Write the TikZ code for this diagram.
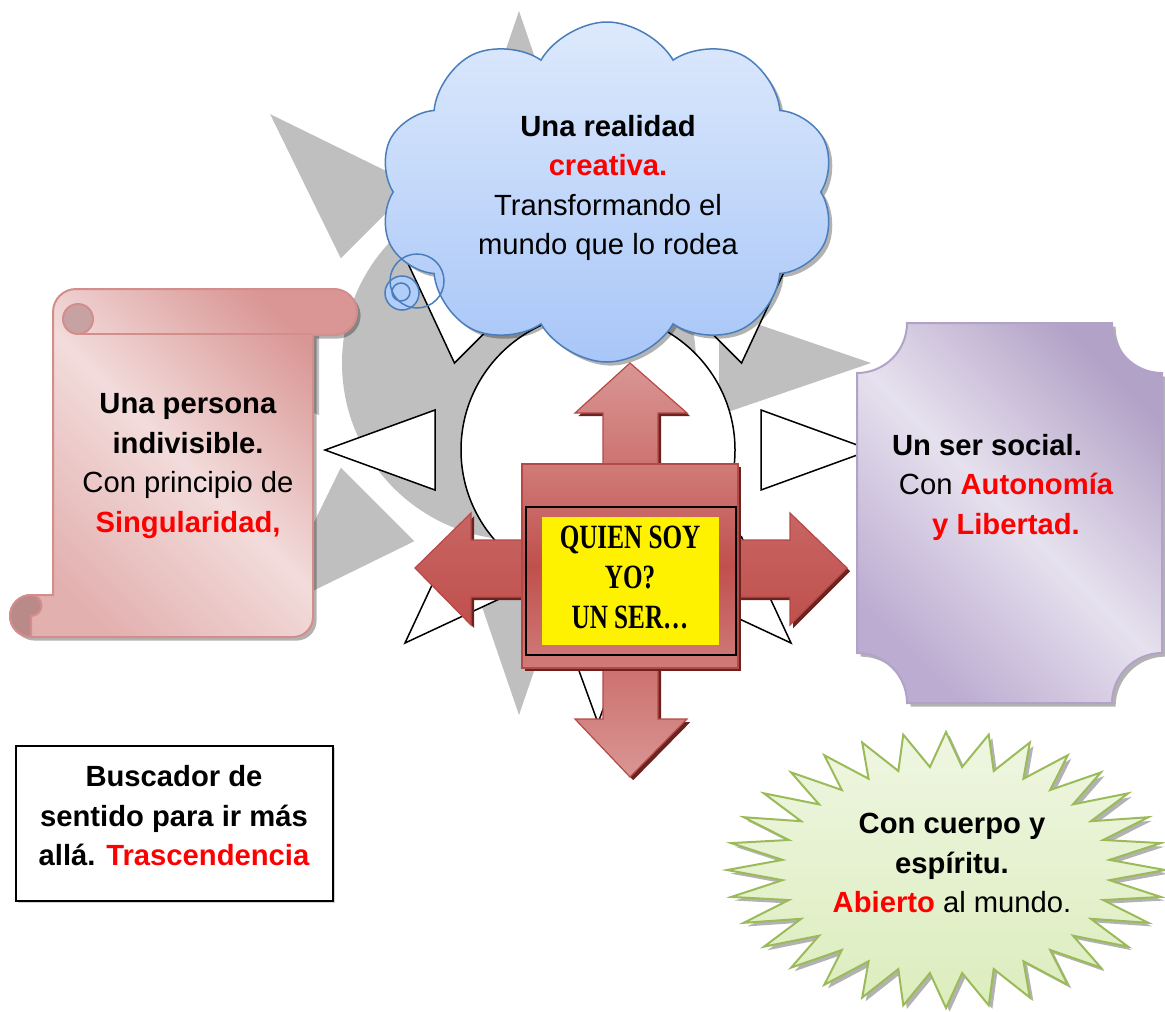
\documentclass[tikz,border=0pt]{standalone}
\usepackage{fontspec}
\usepackage{graphicx}
\setmainfont{Liberation Sans}
\newfontfamily\quienfont{Liberation Serif}
\usetikzlibrary{shapes.symbols,shadows}
\definecolor{sungrey}{HTML}{BFBFBF}
\definecolor{txtred}{HTML}{FF0000}
\definecolor{scrollA}{HTML}{E2B0AF}
\definecolor{scrollB}{HTML}{F2DCDB}
\definecolor{scrollC}{HTML}{D99694}
\definecolor{scrollEdge}{HTML}{D38D8B}
\definecolor{curlA}{HTML}{C6A2A2}
\definecolor{curlB}{HTML}{B98A89}
\definecolor{plaqA}{HTML}{BCACD1}
\definecolor{plaqB}{HTML}{E6E1EE}
\definecolor{plaqC}{HTML}{B3A2C7}
\definecolor{plaqEdge}{HTML}{B3A2C7}
\definecolor{cloudTop}{HTML}{DDE9FC}
\definecolor{cloudBot}{HTML}{A8C6F8}
\definecolor{cloudEdge}{HTML}{4A7EBB}
\definecolor{arrLight}{HTML}{D99694}
\definecolor{arrMain}{HTML}{C0504D}
\definecolor{arrEdge}{HTML}{B54946}
\definecolor{arrShadow}{HTML}{6B2321}
\definecolor{starTop}{HTML}{EFF6E2}
\definecolor{starBot}{HTML}{DCEDBD}
\definecolor{starEdge}{HTML}{9BBB59}
\newcommand\redbf[1]{\textbf{\textcolor{txtred}{#1}}}
\begin{document}
\begin{tikzpicture}[x=0.5pt,y=-0.5pt,
  greyray/.style={fill=sungrey},
  whiteray/.style={fill=white,draw=black,line width=0.75pt},
  txt/.style={font=\fontsize{14.6pt}{19.75pt}\selectfont,align=center,inner sep=0pt},
  softshadow/.style={drop shadow={shadow xshift=1.8pt,shadow yshift=-1.8pt,opacity=0.3,fill=black}},
  arrowshape/.style={draw=arrEdge,line width=0.6pt,drop shadow={shadow xshift=1.6pt,shadow yshift=-1.6pt,opacity=1,fill=arrShadow}}
]
\useasboundingbox (0,0) rectangle (1165,1011);

% grey shadow sun
\fill[greyray] (519,363) circle[radius=177];
\foreach \a in {0,45,...,315}{
  \fill[greyray] ({519+200*cos(\a)-52*sin(\a)},{363+200*sin(\a)+52*cos(\a)})
    -- ({519+352*cos(\a)},{363+352*sin(\a)})
    -- ({519+200*cos(\a)+52*sin(\a)},{363+200*sin(\a)-52*cos(\a)}) -- cycle;
}
% white sun
\filldraw[whiteray] (598,450) circle[radius=137];
\foreach \a in {0,45,...,315}{
  \filldraw[whiteray] ({598+163*cos(\a)-40*sin(\a)},{450+163*sin(\a)+40*cos(\a)})
    -- ({598+273*cos(\a)},{450+273*sin(\a)})
    -- ({598+163*cos(\a)+40*sin(\a)},{450+163*sin(\a)-40*cos(\a)}) -- cycle;
}

% scroll
\path[left color=scrollA,right color=scrollC,middle color=scrollB,shading angle=135,
      draw=scrollEdge,line width=1pt,softshadow]
  (76,289) -- (334,289) arc[start angle=270,end angle=450,radius=23]
  -- (313,335) -- (313,617) arc[start angle=0,end angle=90,radius=20]
  -- (31,637) arc[start angle=90,end angle=270,radius=21]
  -- (53,595) -- (53,312) arc[start angle=180,end angle=270,radius=23] -- cycle;
\draw[scrollEdge,line width=1pt] (78,334) -- (313,334);
\filldraw[fill=curlA,draw=scrollEdge,line width=1pt] (78,319) circle[radius=15];
\filldraw[fill=curlB,draw=scrollEdge,line width=1pt]
  (31,637) arc[start angle=90,end angle=270,radius=21]
  arc[start angle=270,end angle=450,radius=10.5] -- cycle;

% purple plaque
\path[left color=plaqA,right color=plaqC,middle color=plaqB,shading angle=135,
      draw=plaqEdge,line width=1pt,softshadow]
  (907,323) -- (1112,323) arc[start angle=180,end angle=90,radius=50]
  -- (1162,653) arc[start angle=270,end angle=180,radius=50]
  -- (907,703) arc[start angle=0,end angle=-90,radius=50]
  -- (857,373) arc[start angle=90,end angle=0,radius=50] -- cycle;

% cloud
\node[cloud,cloud puffs=10,cloud puff arc=120,cloud ignores aspect,
      minimum width=228pt,minimum height=170pt,
      top color=cloudTop,bottom color=cloudBot,draw=cloudEdge,line width=0.75pt,softshadow]
  (cloud) at (607,192) {};
\filldraw[fill=cloudBot!80!cloudTop,draw=cloudEdge,line width=0.75pt] (402,293) circle[radius=17];
\draw[cloudEdge,line width=0.75pt] (417,281) circle[radius=27];
\draw[cloudEdge,line width=0.75pt] (401,292) circle[radius=9];

% central arrows
\path[arrowshape,top color=arrLight,bottom color=arrLight,middle color=arrMain]
  (630,363) -- (687,413) -- (658,413) -- (658,719) -- (687,719) -- (630,777)
  -- (575,719) -- (603,719) -- (603,413) -- (575,413) -- cycle;
\path[arrowshape,top color=arrMain!88!white,bottom color=arrMain]
  (415,568) -- (471,513) -- (471,540) -- (790,540) -- (790,513) -- (847,568)
  -- (790,625) -- (790,597) -- (471,597) -- (471,625) -- cycle;
\path[arrowshape,top color=arrMain!75!white,bottom color=arrMain!75!white,middle color=arrMain]
  (522,464) rectangle (738,668);
\draw[black,line width=1pt] (526,507) rectangle (736,655);
\fill[yellow] (542,517) rectangle (719,645);

% starburst
\path[top color=starTop,bottom color=starBot,draw=starEdge,line width=1pt,softshadow]
  (946,732) \foreach \k in {0,...,31}{
    -- ({946+164.25*cos(\k*11.25-84.375)},{870+103.5*sin(\k*11.25-84.375)})
    -- ({946+219*cos((\k+1)*11.25-90)},{870+138*sin((\k+1)*11.25-90)})
  } -- cycle;

% text box
\draw[black,line width=1pt,fill=white,drop shadow={shadow xshift=1pt,shadow yshift=-1pt,opacity=0.35}]
  (16,746) rectangle (333,901);

% texts
\node[txt] (cloudtext) at (608,188) {\textbf{Una realidad}\\\redbf{creativa.}\\Transformando el\\mundo que lo rodea};
\node[txt] (scrolltext) at (188,466) {\textbf{Una persona}\\\textbf{indivisible.}\\Con principio de\\\redbf{Singularidad,}};
\node[txt] (socialtext) at (1006,487) {\textbf{Un ser social.}\hspace*{19pt}\\Con \redbf{Autonomía}\\\redbf{y Libertad.}};
\node[txt] (startext) at (952,863) {\textbf{Con cuerpo y}\\\textbf{espíritu.}\\\redbf{Abierto} al mundo.};
\node[txt] (boxtext) at (174,816) {\textbf{Buscador de}\\\textbf{sentido para ir más}\\\textbf{allá.} \redbf{Trascendencia}};
\node[align=center,inner sep=0pt,font=\quienfont\bfseries\fontsize{17pt}{20pt}\selectfont] (quien) at (630,577)
  {\scalebox{0.74}[1]{QUIEN SOY}\\\scalebox{0.74}[1]{YO?}\\\scalebox{0.74}[1]{UN SER…}};
\end{tikzpicture}
\end{document}
